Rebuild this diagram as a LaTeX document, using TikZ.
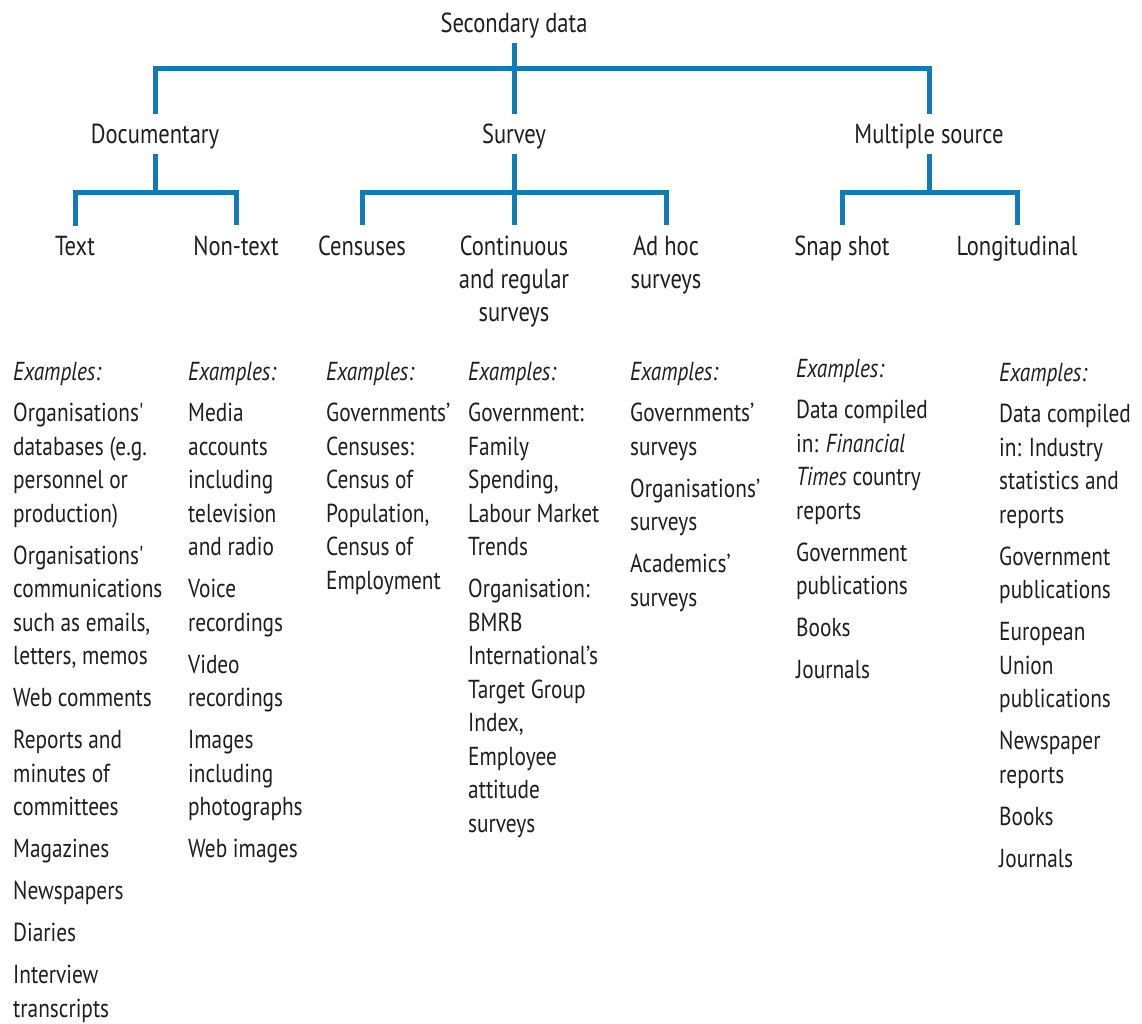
\documentclass[tikz,border=0pt]{standalone}
\usepackage{fontspec}
\setmainfont[FakeStretch=0.82]{PT Sans}
\definecolor{treeblue}{RGB}{22,121,176}
\definecolor{ink}{RGB}{30,30,30}
% a strut that fixes the top of a column 24pt above its first baseline
\newcommand{\topstrut}{\rule{0pt}{24pt}}
% break between two listed examples
\newcommand{\nextex}{\\[8.5pt]}
\begin{document}
\begin{tikzpicture}[x=1pt,y=-1pt,
  lbl/.style={inner sep=0pt, anchor=base, align=center, text=ink,
    font=\fontsize{27.5}{33}\selectfont},
  col/.style={inner sep=0pt, anchor=north west, align=left, text=ink,
    font=\fontsize{26}{33.5}\selectfont},
  link/.style={draw=treeblue, line width=5pt}]
\useasboundingbox (0,0) rectangle (1142,1024);

% tree labels (multi-line labels are placed by their last baseline)
\node[lbl] (root) at (514,33) {Secondary data};
\node[lbl] (doc) at (155,144) {Documentary};
\node[lbl] (sur) at (514,144) {Survey};
\node[lbl] (mul) at (929,144) {Multiple source};
\node[lbl] (txt) at (75,255) {Text};
\node[lbl] (ntx) at (236,255) {Non-text};
\node[lbl] (cen) at (362,255) {Censuses};
\node[lbl] (con) at (514,321) {Continuous\\and regular\\surveys};
\node[lbl] (adh) at (666,288) {Ad hoc\\surveys};
\node[lbl] (snp) at (842,255) {Snap shot};
\node[lbl] (lon) at (1017,255) {Longitudinal};

% junction points of the horizontal bars
\coordinate (bar0) at (514,69);
\coordinate (bar1) at (155,193);
\coordinate (bar2) at (514,193);
\coordinate (bar3) at (929,193);

% connectors
\draw[link] ([yshift=-4pt]root.south) -- ([yshift=10pt]sur.north);
\draw[link] ([yshift=10pt]doc.north) |- (bar0) -| ([yshift=10pt]mul.north);
\draw[link] ([yshift=-4pt]doc.south) -- (bar1);
\draw[link] ([yshift=10pt]txt.north) |- (bar1) -| ([yshift=10pt]ntx.north);
\draw[link] ([yshift=-4pt]sur.south) -- ([yshift=10pt]con.north);
\draw[link] ([yshift=10pt]cen.north) |- (bar2) -| ([yshift=10pt]adh.north);
\draw[link] ([yshift=-4pt]mul.south) -- (bar3);
\draw[link] ([yshift=10pt]snp.north) |- (bar3) -| ([yshift=10pt]lon.north);

% example columns
\node[col] (ex1) at (13,356) {\topstrut\textit{Examples:}\\[8pt]
  Organisations\textquotesingle\\databases (e.g.\\personnel or\\production)\nextex
  Organisations\textquotesingle\\communications\\such as emails,\\letters, memos\nextex
  Web comments\nextex
  Reports and\\minutes of\\committees\nextex
  Magazines\nextex
  Newspapers\nextex
  Diaries\nextex
  Interview\\transcripts};
\node[col] (ex2) at (188,356) {\topstrut\textit{Examples:}\\[8pt]
  Media\\accounts\\including\\television\\and radio\nextex
  Voice\\recordings\nextex
  Video\\recordings\nextex
  Images\\including\\photographs\nextex
  Web images};
\node[col] (ex3) at (326,356) {\topstrut\textit{Examples:}\\[8pt]
  Governments’\\Censuses:\\Census of\\Population,\\Census of\\Employment};
\node[col] (ex4) at (468,356) {\topstrut\textit{Examples:}\\[8pt]
  Government:\\Family\\Spending,\\Labour Market\\Trends\nextex
  Organisation:\\BMRB\\International’s\\Target Group\\Index,\\Employee\\attitude\\surveys};
\node[col] (ex5) at (630,356) {\topstrut\textit{Examples:}\\[8pt]
  Governments’\\surveys\nextex
  Organisations’\\surveys\nextex
  Academics’\\surveys};
\node[col] (ex6) at (796,353) {\topstrut\textit{Examples:}\\[8pt]
  Data compiled\\in: \textit{Financial}\\\textit{Times} country\\reports\nextex
  Government\\publications\nextex
  Books\nextex
  Journals};
\node[col] (ex7) at (999,357) {\topstrut\textit{Examples:}\\[8pt]
  Data compiled\\in: Industry\\statistics and\\reports\nextex
  Government\\publications\nextex
  European\\Union\\publications\nextex
  Newspaper\\reports\nextex
  Books\nextex
  Journals};
\end{tikzpicture}
\end{document}
